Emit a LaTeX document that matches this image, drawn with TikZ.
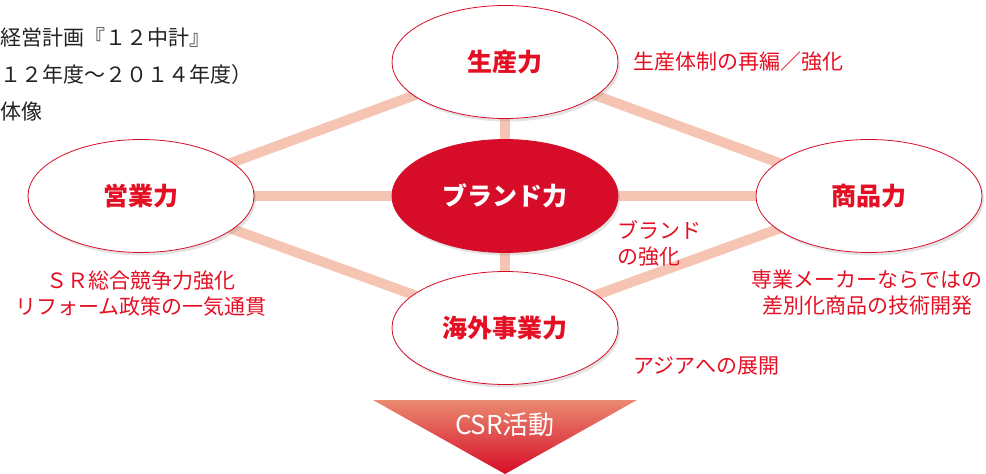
\documentclass[tikz,border=0pt]{standalone}
\usepackage{fontspec}
\setmainfont{Noto Sans CJK JP}
\usetikzlibrary{shapes.geometric,shadows,backgrounds}
\definecolor{jred}{HTML}{E50F24}
\definecolor{bred}{HTML}{D60C28}
\definecolor{linec}{HTML}{F6C4B3}
\definecolor{tgray}{HTML}{222222}
\definecolor{trtop}{HTML}{EA8A70}
\definecolor{trmid}{HTML}{E15340}
\tikzset{
  oval/.style={ellipse, draw=bred, line width=0.8pt, fill=white, minimum width=226pt, minimum height=113pt, inner sep=0pt,
     font=\fontsize{25}{27}\selectfont\bfseries, text=jred,
     drop shadow={opacity=0.22, shadow xshift=2pt, shadow yshift=-3pt}},
  coreoval/.style={oval, fill=bred, text=white},
  link/.style={line width=10pt, draw=linec},
  lbl/.style={font=\fontsize{21}{26}\selectfont, text=jred, inner sep=0pt},
  hdr/.style={font=\fontsize{21}{26}\selectfont, text=tgray, inner sep=0pt, anchor=west}
}
\begin{document}
\begin{tikzpicture}[x=1pt,y=-1pt]
\useasboundingbox (0,0) rectangle (986,474);
\clip (0,0) rectangle (986,474);
\node[oval] (sei) at (505,62) {生産力};
\node[oval] (ei) at (141,196) {営業力};
\node[coreoval] (br) at (505,196) {ブランド力};
\node[oval] (sho) at (869,196) {商品力};
\node[oval] (kai) at (505,328) {海外事業力};
\begin{pgfonlayer}{background}
\draw[link] (sei.center) -- (ei.center);
\draw[link] (sei.center) -- (sho.center);
\draw[link] (sei.center) -- (br.center);
\draw[link] (ei.center) -- (br.center);
\draw[link] (br.center) -- (sho.center);
\draw[link] (ei.center) -- (kai.center);
\draw[link] (sho.center) -- (kai.center);
\draw[link] (br.center) -- (kai.center);
\end{pgfonlayer}
\node[hdr] (h1) at (0,38) {経営計画『１２中計』};
\node[hdr] (h2) at (0,75) {１２年度～２０１４年度）};
\node[hdr] (h3) at (0,112) {体像};
\node[lbl, anchor=west] (l1) at (633,62) {生産体制の再編／強化};
\node[lbl, anchor=north west, align=left] (l2) at (617,220) {ブランド\\の強化};
\node[lbl, align=center] (l3) at (867,293) {専業メーカーならではの\\差別化商品の技術開発};
\node[lbl, anchor=west] (l4) at (633,366) {アジアへの展開};
\node[lbl, align=center] (l5) at (141,294) {ＳＲ総合競争力強化\\リフォーム政策の一気通貫};
\shade[top color=trtop, middle color=trmid, bottom color=bred]
  (373,400) -- (637,400) -- (505,474) -- cycle;
\node[font=\fontsize{26}{28}\selectfont, text=white] (csr) at (505,425) {CSR活動};
\end{tikzpicture}
\end{document}
